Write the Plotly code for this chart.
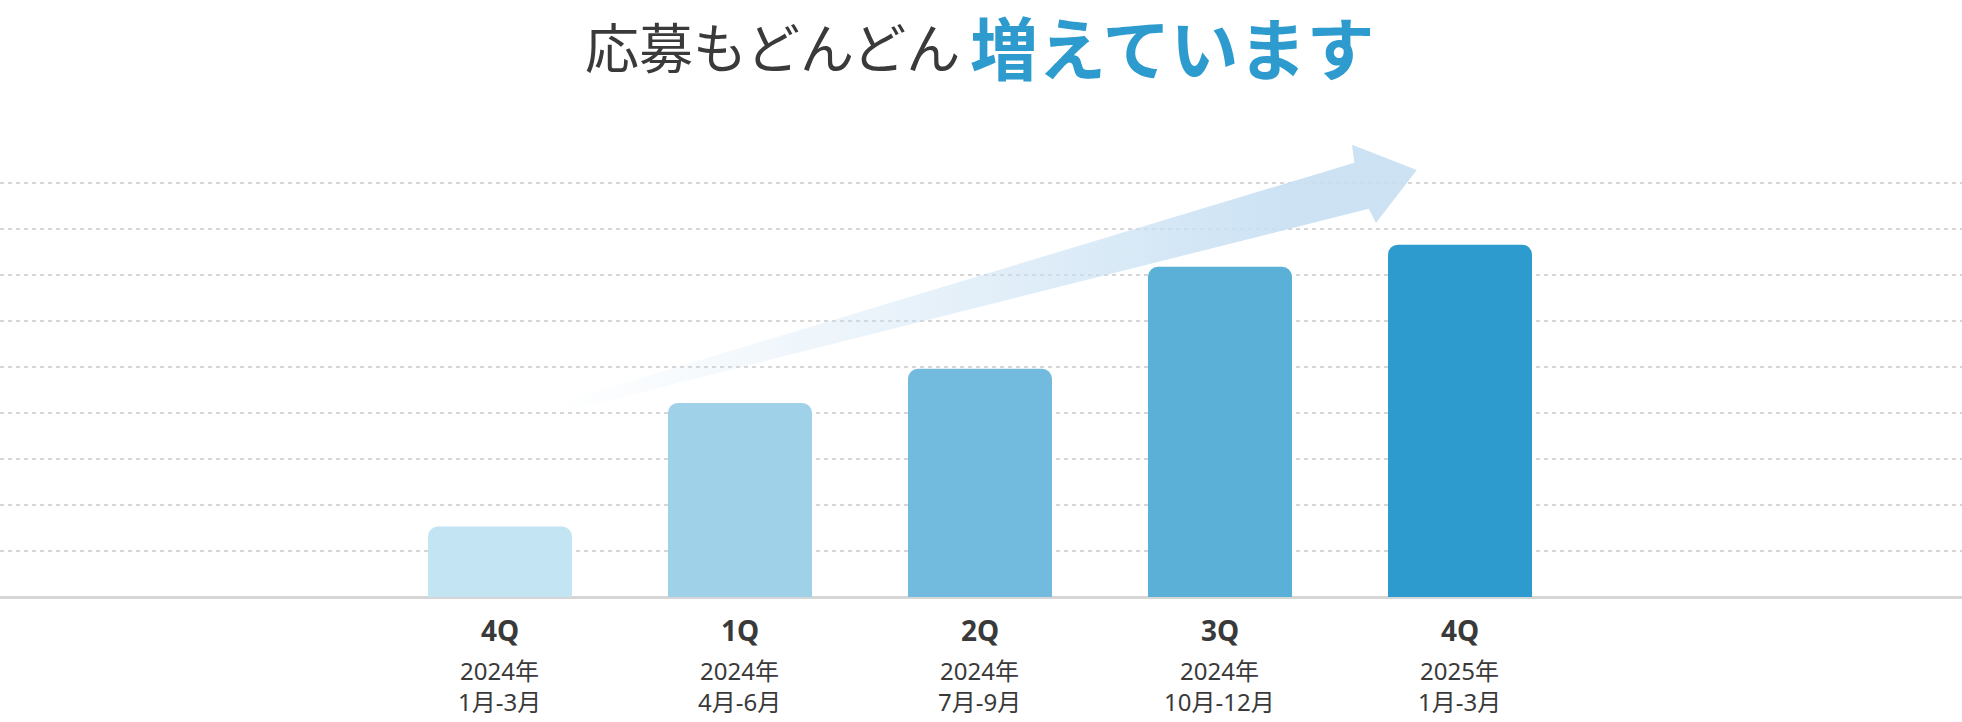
import plotly.graph_objects as go

# --- data ---
quarters = ["4Q", "1Q", "2Q", "3Q", "4Q"]
years = ["2024年", "2024年", "2024年", "2024年", "2025年"]
months = ["1月-3月", "4月-6月", "7月-9月", "10月-12月", "1月-3月"]
applications = [1.53, 4.22, 4.96, 7.18, 7.66]
bar_colors = ["#c3e4f3", "#9fd2e8", "#72bade", "#5ab0d7", "#2d9bcd"]

# decorative arrow outline (data units)
arrow_x = [0.23, 3.56, 3.55, 3.82, 3.65, 3.62, 0.23]
arrow_y = [4.20, 9.44, 9.83, 9.28, 8.13, 8.44, 3.98]

W, H = 1962, 722
TOP, BOTTOM = 100, 125
PLOT_H = H - TOP - BOTTOM
Y_TOP = PLOT_H / 46.0
FONT = "Noto Sans, Noto Sans CJK JP, sans-serif"
TEXT = "#3a3a3a"

x_idx = list(range(len(quarters)))

fig = go.Figure()

fig.add_trace(go.Scatter(
    x=arrow_x, y=arrow_y, mode="lines", fill="toself",
    line=dict(width=0, color="rgba(0,0,0,0)"),
    fillgradient=dict(
        type="horizontal",
        colorscale=[[0, "rgba(200,224,243,0)"], [0.35, "rgba(200,224,243,0.35)"],
                    [0.85, "rgba(200,224,243,0.92)"], [1, "rgba(200,224,243,0.92)"]],
    ),
    hoverinfo="skip", showlegend=False,
))

fig.add_trace(go.Bar(
    x=x_idx, y=applications, width=0.6,
    marker=dict(color=bar_colors, line=dict(width=0)),
    hoverinfo="skip", showlegend=False,
))


def py(pix):
    # pixel row -> paper y
    return (H - BOTTOM - pix) / PLOT_H


# x-axis labels: quarter / year / months
for i in x_idx:
    fig.add_annotation(x=i, y=py(630), xref="x", yref="paper", text="<b>%s</b>" % quarters[i],
                       showarrow=False, font=dict(family=FONT, size=28, color=TEXT), yanchor="middle")
    fig.add_annotation(x=i, y=py(670), xref="x", yref="paper", text=years[i],
                       showarrow=False, font=dict(family=FONT, size=24, color=TEXT), yanchor="middle")
    fig.add_annotation(x=i, y=py(701), xref="x", yref="paper", text=months[i],
                       showarrow=False, font=dict(family=FONT, size=24, color=TEXT), yanchor="middle")

# title in two parts
fig.add_annotation(x=962 / W, y=py(46), xref="paper", yref="paper", xanchor="right", yanchor="middle",
                   text="応募もどんどん", showarrow=False,
                   font=dict(family="Noto Sans CJK JP", size=54, color=TEXT))
fig.add_annotation(x=968 / W, y=py(45), xref="paper", yref="paper", xanchor="left", yanchor="middle",
                   text="<b>増えています</b>", showarrow=False,
                   font=dict(family="Noto Sans CJK JP", size=68, color="#2d9bcd"))

fig.update_layout(
    width=W, height=H,
    margin=dict(l=0, r=0, t=TOP, b=BOTTOM),
    plot_bgcolor="white", paper_bgcolor="white",
    barcornerradius=10,
    showlegend=False,
)
fig.update_xaxes(range=[-2.0833, 6.0917], showticklabels=False, showgrid=False,
                 zeroline=False, showline=False, fixedrange=True)
fig.update_yaxes(range=[0, Y_TOP], tickvals=list(range(1, 10)), showticklabels=False,
                 showgrid=True, gridcolor="#d6d6d6", gridwidth=1.5, griddash="4px,4px",
                 zeroline=True, zerolinecolor="#d6d6d6", zerolinewidth=2.5,
                 showline=False, fixedrange=True)

fig.write_html("out.html", config={"displayModeBar": False},
               post_script="document.body.style.margin='0';document.body.style.overflow='hidden';")
